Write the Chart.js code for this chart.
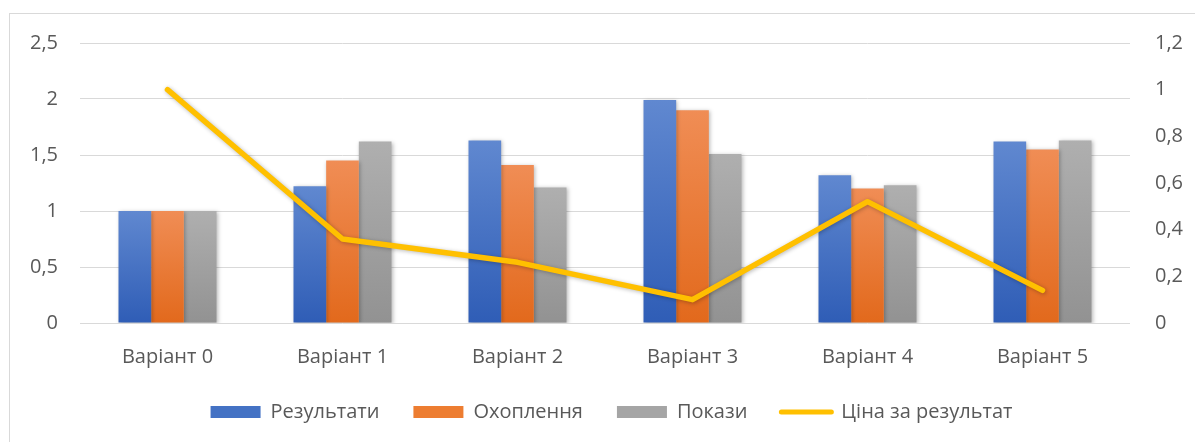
<!DOCTYPE html>
<html>
<head>
<meta charset="utf-8">
<script src="https://cdn.jsdelivr.net/npm/chart.js@4/dist/chart.umd.min.js"></script>
<style>
  html, body { margin: 0; padding: 0; background: #fff; }
  #wrap { position: relative; width: 1195px; height: 442px; }
</style>
</head>
<body>
<div id="wrap"><canvas id="myChart"></canvas></div>
<script>
const categories = ['Варіант 0', 'Варіант 1', 'Варіант 2', 'Варіант 3', 'Варіант 4', 'Варіант 5'];
const results = [1, 1.22, 1.63, 1.99, 1.32, 1.62];
const coverage = [1, 1.45, 1.41, 1.90, 1.20, 1.55];
const impressions = [1, 1.62, 1.21, 1.51, 1.23, 1.63];
const costPerResult = [1, 0.36, 0.26, 0.10, 0.52, 0.14];
const seriesNames = ['Результати', 'Охоплення', 'Покази', 'Ціна за результат'];

const textColor = '#595959';
const font = { family: "'Open Sans', sans-serif", size: 20 };

function barGradient(top, bottom) {
  return function(context) {
    const chart = context.chart;
    const area = chart.chartArea;
    if (!area || context.type !== 'data' || !context.parsed) return bottom;
    const y = chart.scales.y.getPixelForValue(context.parsed.y);
    const g = chart.ctx.createLinearGradient(0, y, 0, area.bottom);
    g.addColorStop(0, top);
    g.addColorStop(1, bottom);
    return g;
  };
}

function commaTick(value) {
  return (Math.round(value * 10) / 10).toString().replace('.', ',');
}

const frame = {
  id: 'frame',
  beforeDraw(chart) {
    const c = chart.ctx;
    c.save();
    c.fillStyle = '#fff';
    c.fillRect(0, 0, chart.width, chart.height);
    c.strokeStyle = '#d9d9d9';
    c.lineWidth = 1;
    c.strokeRect(9.5, 13.5, chart.width + 20, chart.height + 20);
    c.restore();
  }
};

const shadow = {
  id: 'shadow',
  beforeDatasetDraw(chart) {
    const c = chart.ctx;
    c.save();
    c.shadowColor = 'rgba(0,0,0,0.28)';
    c.shadowBlur = 4;
    c.shadowOffsetX = 1;
    c.shadowOffsetY = 1;
  },
  afterDatasetDraw(chart) {
    chart.ctx.restore();
  }
};

const legendColors = ['#4472C4', '#ED7D31', '#A5A5A5', '#FFC000'];

const data = {
  labels: categories,
  datasets: [
    {
      type: 'bar',
      label: seriesNames[0],
      data: results,
      backgroundColor: barGradient('#6088D0', '#2F5DB6'),
      yAxisID: 'y',
      order: 1
    },
    {
      type: 'bar',
      label: seriesNames[1],
      data: coverage,
      backgroundColor: barGradient('#F08D55', '#E2691C'),
      yAxisID: 'y',
      order: 1
    },
    {
      type: 'bar',
      label: seriesNames[2],
      data: impressions,
      backgroundColor: barGradient('#AFAFAF', '#929292'),
      yAxisID: 'y',
      order: 1
    },
    {
      type: 'line',
      label: seriesNames[3],
      data: costPerResult,
      borderColor: '#FFC000',
      backgroundColor: '#FFC000',
      borderWidth: 5.5,
      pointRadius: 0,
      tension: 0,
      borderCapStyle: 'round',
      borderJoinStyle: 'round',
      yAxisID: 'y1',
      order: 0
    }
  ]
};

const config = {
  type: 'bar',
  data,
  plugins: [frame, shadow],
  options: {
    responsive: false,
    animation: false,
    layout: { padding: { top: 43, left: 28, right: 0, bottom: 10 } },
    datasets: {
      bar: { categoryPercentage: 0.56, barPercentage: 1 }
    },
    plugins: {
      tooltip: { enabled: false },
      legend: {
        position: 'bottom',
        labels: {
          usePointStyle: true,
          pointStyleWidth: 50,
          boxHeight: 12,
          padding: 34,
          color: textColor,
          font,
          generateLabels(chart) {
            return chart.data.datasets.map((ds, i) => ({
              text: ds.label,
              datasetIndex: i,
              fillStyle: legendColors[i],
              strokeStyle: legendColors[i],
              lineWidth: ds.type === 'line' ? 5 : 0,
              lineCap: 'round',
              pointStyle: ds.type === 'line' ? 'line' : 'rect',
              fontColor: textColor,
              hidden: false
            }));
          }
        }
      }
    },
    scales: {
      x: {
        grid: { display: false, drawTicks: false },
        border: { display: false },
        ticks: { color: textColor, font, padding: 22 },
        afterFit(scale) { scale.height = 45; }
      },
      y: {
        position: 'left',
        min: 0,
        max: 2.5,
        ticks: { stepSize: 0.5, color: textColor, font, padding: 22, callback: commaTick },
        grid: { color: '#d9d9d9', lineWidth: 1, drawTicks: false },
        border: { display: false },
        afterFit(scale) { scale.width = 52; }
      },
      y1: {
        position: 'right',
        min: 0,
        max: 1.2,
        ticks: { stepSize: 0.2, color: textColor, font, padding: 25, callback: commaTick },
        grid: { display: false, drawTicks: false },
        border: { display: false },
        afterFit(scale) { scale.width = 65; }
      }
    }
  }
};

const canvas = document.getElementById('myChart');
canvas.width = 1195;
canvas.height = 442;
var myChart = new Chart(canvas, config);
</script>
</body>
</html>
